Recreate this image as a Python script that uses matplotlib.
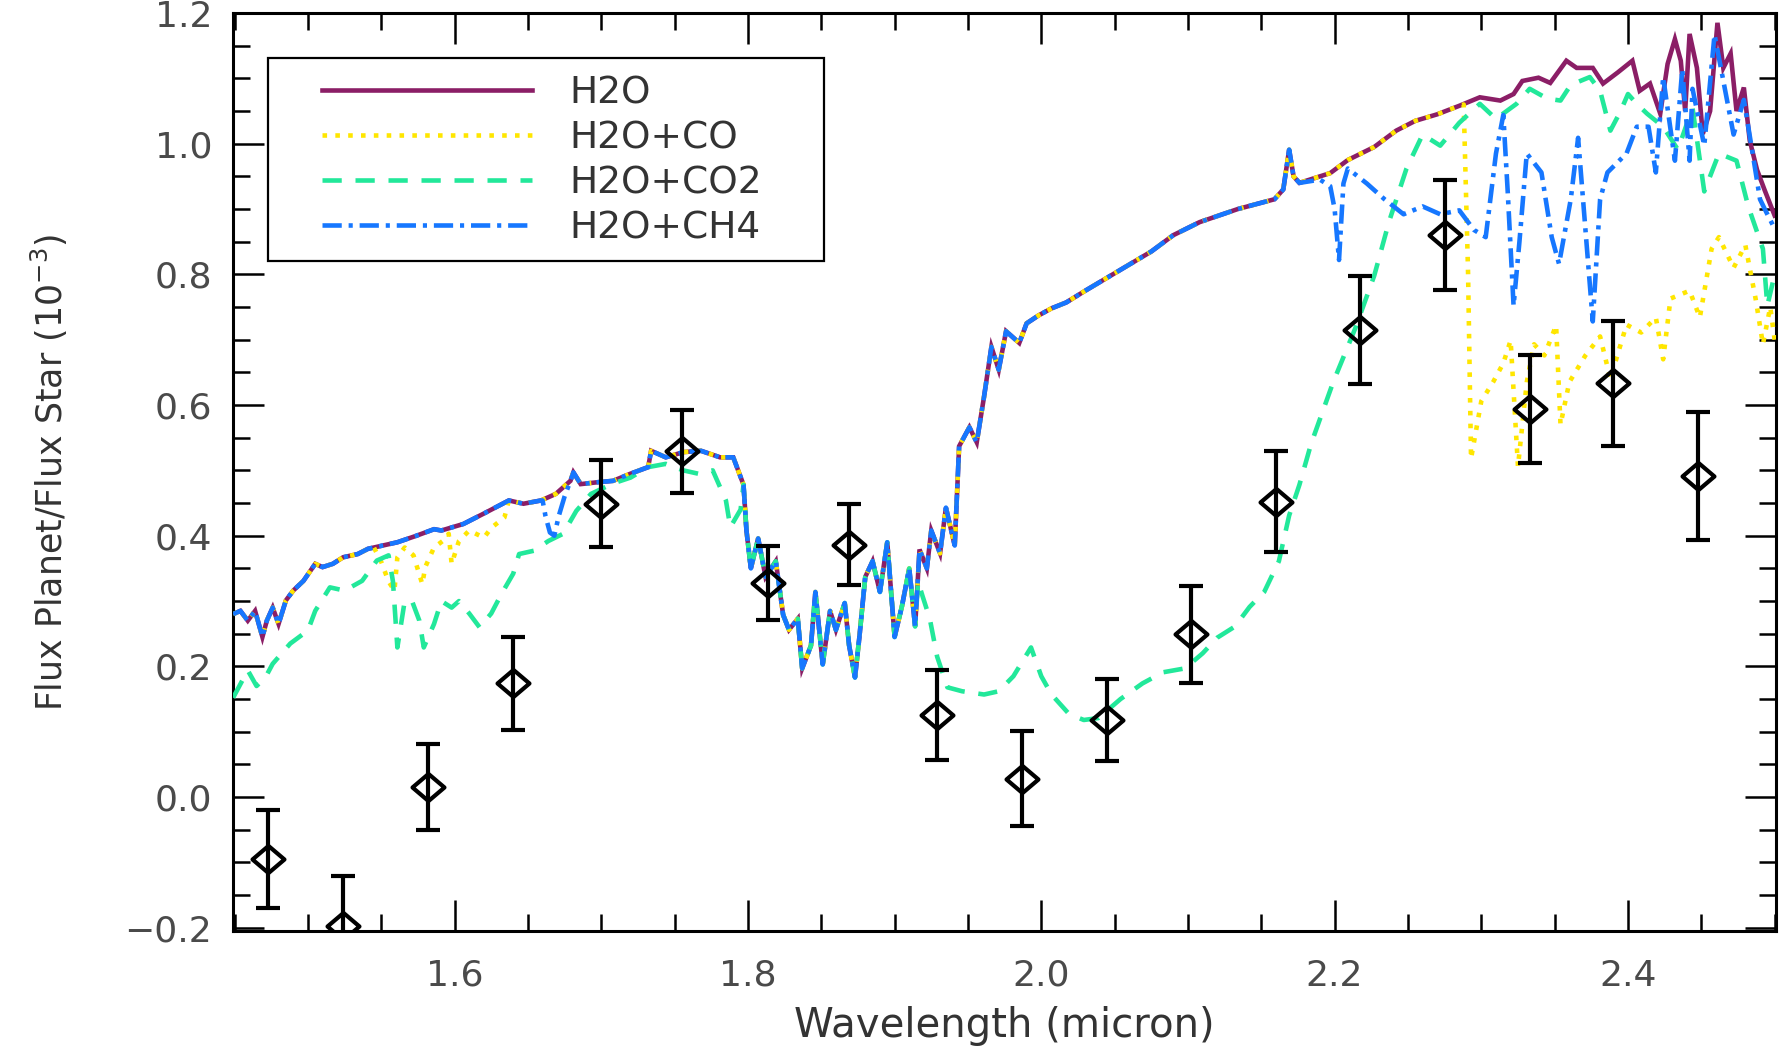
import numpy as np
import matplotlib
matplotlib.use("Agg")
import matplotlib.pyplot as plt
from matplotlib.path import Path
from matplotlib.patches import Rectangle
from matplotlib.ticker import MultipleLocator, FuncFormatter
from matplotlib.transforms import blended_transform_factory

# ---------------------------------------------------------------
# Model spectra: planet/star flux ratio in units of 1e-3
# ---------------------------------------------------------------
h2o_wl = [1.449, 1.454, 1.459, 1.464, 1.469, 1.472, 1.476, 1.480, 1.485, 1.490,
          1.497, 1.505, 1.510, 1.517, 1.524, 1.534, 1.541, 1.551, 1.561, 1.574,
          1.586, 1.591, 1.606, 1.620, 1.637, 1.647, 1.659, 1.669, 1.679, 1.681,
          1.686, 1.698, 1.708, 1.720, 1.732, 1.734, 1.744, 1.756, 1.768, 1.781,
          1.790, 1.797, 1.799, 1.802, 1.807, 1.812, 1.819, 1.824, 1.828, 1.834,
          1.837, 1.843, 1.846, 1.851, 1.856, 1.860, 1.866, 1.869, 1.873, 1.876,
          1.880, 1.885, 1.890, 1.895, 1.900, 1.905, 1.910, 1.914, 1.917, 1.922,
          1.925, 1.931, 1.935, 1.941, 1.944, 1.951, 1.956, 1.961, 1.966, 1.971,
          1.976, 1.985, 1.990, 1.998, 2.007, 2.017, 2.030, 2.045, 2.060, 2.075,
          2.090, 2.108, 2.134, 2.159, 2.165, 2.169, 2.172, 2.176, 2.197, 2.209,
          2.227, 2.242, 2.255, 2.270, 2.285, 2.299, 2.313, 2.322, 2.328, 2.339,
          2.347, 2.358, 2.365, 2.376, 2.383, 2.393, 2.403, 2.408, 2.415, 2.422,
          2.427, 2.432, 2.436, 2.439, 2.442, 2.447, 2.451, 2.456, 2.461, 2.465,
          2.470, 2.474, 2.479, 2.483, 2.488, 2.493, 2.500]
h2o_flux = [0.280, 0.285, 0.270, 0.285, 0.245, 0.270, 0.290, 0.265, 0.301, 0.316,
            0.331, 0.357, 0.352, 0.357, 0.367, 0.372, 0.380, 0.385, 0.390, 0.400,
            0.410, 0.408, 0.418, 0.434, 0.454, 0.449, 0.454, 0.464, 0.484, 0.497,
            0.479, 0.482, 0.484, 0.495, 0.505, 0.530, 0.520, 0.528, 0.530, 0.520,
            0.520, 0.478, 0.408, 0.350, 0.396, 0.337, 0.361, 0.279, 0.256, 0.273,
            0.197, 0.232, 0.314, 0.203, 0.285, 0.256, 0.297, 0.232, 0.183, 0.245,
            0.337, 0.361, 0.314, 0.390, 0.245, 0.292, 0.350, 0.261, 0.379, 0.350,
            0.408, 0.373, 0.443, 0.385, 0.537, 0.566, 0.543, 0.613, 0.689, 0.654,
            0.713, 0.695, 0.725, 0.737, 0.748, 0.757, 0.775, 0.795, 0.815, 0.835,
            0.860, 0.880, 0.900, 0.915, 0.930, 0.991, 0.950, 0.940, 0.955, 0.975,
            0.995, 1.020, 1.035, 1.045, 1.058, 1.071, 1.066, 1.076, 1.096, 1.101,
            1.093, 1.127, 1.116, 1.116, 1.092, 1.109, 1.127, 1.081, 1.092, 1.046,
            1.122, 1.160, 1.127, 1.050, 1.168, 1.116, 1.015, 1.050, 1.185, 1.116,
            1.138, 1.050, 1.086, 1.005, 0.960, 0.930, 0.890]

# CO bands (rest of the H2O+CO spectrum follows pure H2O)
co_band1_wl = [1.545, 1.550, 1.555, 1.559, 1.561, 1.566, 1.572, 1.578, 1.580, 1.586,
               1.592, 1.596, 1.598, 1.603, 1.610, 1.620, 1.625, 1.634]
co_band1_flux = [0.382, 0.360, 0.330, 0.316, 0.367, 0.382, 0.370, 0.326, 0.352, 0.382,
                 0.392, 0.403, 0.357, 0.392, 0.408, 0.397, 0.412, 0.428]
co_band2_wl = [2.288, 2.291, 2.293, 2.300, 2.308, 2.315, 2.320, 2.325, 2.331, 2.336,
               2.343, 2.351, 2.354, 2.360, 2.371, 2.381, 2.388, 2.399, 2.409, 2.419,
               2.424, 2.429, 2.442, 2.449, 2.457, 2.462, 2.472, 2.480, 2.487, 2.492,
               2.497, 2.500]
co_band2_flux = [1.060, 0.800, 0.518, 0.606, 0.635, 0.664, 0.699, 0.506, 0.635, 0.693,
                 0.676, 0.722, 0.570, 0.635, 0.676, 0.705, 0.640, 0.723, 0.711, 0.734,
                 0.670, 0.763, 0.775, 0.734, 0.839, 0.857, 0.810, 0.845, 0.763, 0.693,
                 0.750, 0.700]

# CO2 bands
co2_band1_wl = [1.449, 1.459, 1.465, 1.471, 1.476, 1.488, 1.500, 1.505, 1.515, 1.525,
                1.537, 1.547, 1.555, 1.558, 1.561, 1.566, 1.571, 1.576, 1.579, 1.586,
                1.591, 1.598, 1.603, 1.610, 1.617, 1.625, 1.632, 1.640, 1.644, 1.654,
                1.664, 1.674, 1.683, 1.693, 1.708, 1.720, 1.732, 1.744, 1.756, 1.766,
                1.776, 1.785, 1.788, 1.795]
co2_band1_flux = [0.152, 0.194, 0.170, 0.183, 0.204, 0.235, 0.255, 0.285, 0.321, 0.316,
                  0.331, 0.362, 0.370, 0.330, 0.229, 0.300, 0.300, 0.270, 0.229, 0.265,
                  0.300, 0.290, 0.300, 0.281, 0.260, 0.281, 0.311, 0.342, 0.372, 0.377,
                  0.392, 0.403, 0.438, 0.464, 0.480, 0.489, 0.505, 0.510, 0.500, 0.495,
                  0.500, 0.454, 0.413, 0.440]
co2_band2_wl = [1.916, 1.919, 1.924, 1.929, 1.936, 1.946, 1.961, 1.971, 1.981, 1.993,
                2.000, 2.007, 2.019, 2.029, 2.039, 2.054, 2.069, 2.083, 2.098, 2.110,
                2.120, 2.132, 2.142, 2.152, 2.162, 2.169, 2.176, 2.184, 2.199, 2.214,
                2.227, 2.237, 2.249, 2.260, 2.272, 2.285, 2.299, 2.310, 2.324, 2.333,
                2.345, 2.354, 2.361, 2.374, 2.381, 2.388, 2.395, 2.400, 2.406, 2.413,
                2.424, 2.434, 2.444, 2.452, 2.462, 2.474, 2.482, 2.492, 2.495, 2.500]
co2_band2_flux = [0.330, 0.308, 0.273, 0.215, 0.168, 0.162, 0.157, 0.162, 0.185, 0.229,
                  0.185, 0.157, 0.127, 0.118, 0.121, 0.150, 0.174, 0.191, 0.197, 0.220,
                  0.244, 0.261, 0.291, 0.314, 0.361, 0.431, 0.478, 0.541, 0.635, 0.717,
                  0.798, 0.880, 0.962, 1.014, 0.997, 1.032, 1.061, 1.038, 1.061, 1.084,
                  1.069, 1.066, 1.090, 1.102, 1.081, 1.020, 1.050, 1.076, 1.061, 1.046,
                  1.026, 0.991, 1.055, 0.927, 0.985, 0.974, 0.904, 0.839, 0.752, 0.800]

# CH4 bands
ch4_band1_wl = [1.660, 1.662, 1.665, 1.668, 1.671, 1.675]
ch4_band1_flux = [0.454, 0.430, 0.405, 0.400, 0.430, 0.460]
ch4_band2_wl = [2.190, 2.197, 2.200, 2.203, 2.206, 2.209, 2.222, 2.234, 2.247, 2.260,
                2.272, 2.285, 2.295, 2.303, 2.310, 2.315, 2.318, 2.322, 2.326, 2.331,
                2.341, 2.348, 2.353, 2.361, 2.366, 2.371, 2.376, 2.381, 2.386, 2.399,
                2.406, 2.414, 2.419, 2.424, 2.432, 2.437, 2.442, 2.444, 2.452, 2.459,
                2.467, 2.472, 2.479, 2.485, 2.490, 2.495, 2.500]
ch4_band2_flux = [0.945, 0.935, 0.900, 0.822, 0.939, 0.962, 0.939, 0.915, 0.892, 0.904,
                  0.892, 0.898, 0.868, 0.857, 0.985, 1.044, 0.927, 0.752, 0.850, 0.985,
                  0.956, 0.857, 0.816, 0.915, 1.009, 0.868, 0.728, 0.915, 0.956, 0.985,
                  1.026, 1.026, 0.956, 1.102, 0.974, 1.114, 0.974, 1.084, 0.997, 1.167,
                  1.073, 1.014, 1.067, 0.985, 0.915, 0.892, 0.870]

# Observed eclipse depths with 1-sigma errors
obs_wl = [1.473, 1.524, 1.582, 1.640, 1.700, 1.755, 1.814, 1.869, 1.929,
          1.987, 2.045, 2.102, 2.160, 2.217, 2.275, 2.333, 2.390, 2.448]
obs_flux = [-0.094, -0.198, 0.016, 0.174, 0.449, 0.529, 0.328, 0.386, 0.125,
            0.028, 0.118, 0.249, 0.452, 0.715, 0.860, 0.594, 0.633, 0.492]
obs_err = [0.075, 0.077, 0.066, 0.071, 0.067, 0.064, 0.057, 0.062, 0.069,
           0.073, 0.063, 0.074, 0.077, 0.083, 0.084, 0.082, 0.096, 0.098]

labels = ["H2O", "H2O+CO", "H2O+CO2", "H2O+CH4"]
colors = ["#8B1E66", "#FFE600", "#22E89A", "#1677FF"]


def splice(base_wl, base_f, seg_wl, seg_f):
    """Replace the part of a base spectrum covered by a band segment."""
    bw = np.asarray(base_wl, float)
    bf = np.asarray(base_f, float)
    sw = np.asarray(seg_wl, float)
    sf = np.asarray(seg_f, float)
    lo_mask = bw < sw[0]
    hi_mask = bw > sw[-1]
    return (np.concatenate([bw[lo_mask], sw, bw[hi_mask]]),
            np.concatenate([bf[lo_mask], sf, bf[hi_mask]]))


co_wl, co_flux = splice(h2o_wl, h2o_flux, co_band1_wl, co_band1_flux)
co_wl, co_flux = splice(co_wl, co_flux, co_band2_wl, co_band2_flux)
co2_wl, co2_flux = splice(h2o_wl, h2o_flux, co2_band1_wl, co2_band1_flux)
co2_wl, co2_flux = splice(co2_wl, co2_flux, co2_band2_wl, co2_band2_flux)
ch4_wl, ch4_flux = splice(h2o_wl, h2o_flux, ch4_band1_wl, ch4_band1_flux)
ch4_wl, ch4_flux = splice(ch4_wl, ch4_flux, ch4_band2_wl, ch4_band2_flux)

# ---------------------------------------------------------------
fig = plt.figure(figsize=(17.82, 10.5), dpi=100)
ax = fig.add_axes([0.1308, 0.1133, 0.8659, 0.8743])

lw = 3.3
ax.plot(h2o_wl, h2o_flux, color=colors[0], lw=lw, solid_joinstyle="miter",
        label=labels[0], zorder=2)
ax.plot(co_wl, co_flux, color=colors[1], lw=lw, dashes=(1.0, 1.8),
        label=labels[1], zorder=3)
ax.plot(co2_wl, co2_flux, color=colors[2], lw=lw, dashes=(4.2, 3.0),
        label=labels[2], zorder=4)
ax.plot(ch4_wl, ch4_flux, color=colors[3], lw=lw, dashes=(4.2, 1.5, 0.9, 1.5),
        label=labels[3], zorder=5)

# observations: open diamonds with capped error bars
diamond = Path([(-1.0, 0.0), (0.0, 0.85), (1.0, 0.0), (0.0, -0.85), (-1.0, 0.0)],
               [Path.MOVETO, Path.LINETO, Path.LINETO, Path.LINETO, Path.CLOSEPOLY])
ax.errorbar(obs_wl, obs_flux, yerr=obs_err, fmt="none", ecolor="black",
            elinewidth=3.0, capsize=8.5, capthick=3.0, zorder=6)
ax.plot(obs_wl, obs_flux, linestyle="none", marker=diamond, markersize=23,
        markerfacecolor="none", markeredgecolor="black", markeredgewidth=3.0,
        zorder=7)

ax.set_xlim(1.449, 2.501)
ax.set_ylim(-0.205, 1.2)

tick_fmt = FuncFormatter(lambda v, pos: f"{v:.1f}".replace("-", "\u2212"))
ax.xaxis.set_major_locator(MultipleLocator(0.2))
ax.xaxis.set_minor_locator(MultipleLocator(0.05))
ax.yaxis.set_major_locator(MultipleLocator(0.2))
ax.yaxis.set_minor_locator(MultipleLocator(0.05))
ax.xaxis.set_major_formatter(tick_fmt)
ax.yaxis.set_major_formatter(tick_fmt)

ax.tick_params(which="both", direction="in", top=True, right=True,
               width=1.8, color="black")
ax.tick_params(which="major", length=22)
ax.tick_params(which="minor", length=12)
ax.tick_params(axis="x", which="major", pad=20, labelsize=26, labelcolor="#4a4a4a")
ax.tick_params(axis="y", which="major", pad=15, labelsize=26, labelcolor="#4a4a4a")
for sp in ax.spines.values():
    sp.set_linewidth(2.2)

# axis titles: x title centred on the axes, baseline near the figure bottom
ax.set_xlabel("Wavelength (micron)", fontsize=29, color="#333333",
              va="baseline")
ax.xaxis.set_label_coords(0.5, 13.0 / 1050.0,
                          transform=blended_transform_factory(ax.transAxes,
                                                              fig.transFigure))
ax.set_ylabel("Flux Planet/Flux Star (10$^{-3}$)", fontsize=25, color="#333333")
ax.yaxis.set_label_coords(-0.106, 0.5)

# legend entries, with a separate rectangular frame around them
leg = ax.legend(loc="upper left", bbox_to_anchor=(0.0577, 0.932),
                borderaxespad=0.0, borderpad=0.0, fontsize=27, handlelength=5.6,
                handletextpad=1.0, labelspacing=0.24, frameon=False)
for txt in leg.get_texts():
    txt.set_color("#333333")
ax.add_patch(Rectangle((0.0227, 0.7298), 0.3603, 0.2212, transform=ax.transAxes,
                       facecolor="white", edgecolor="black", linewidth=1.6,
                       zorder=8))
leg.set_zorder(9)

fig.savefig("out.png", dpi=100)
